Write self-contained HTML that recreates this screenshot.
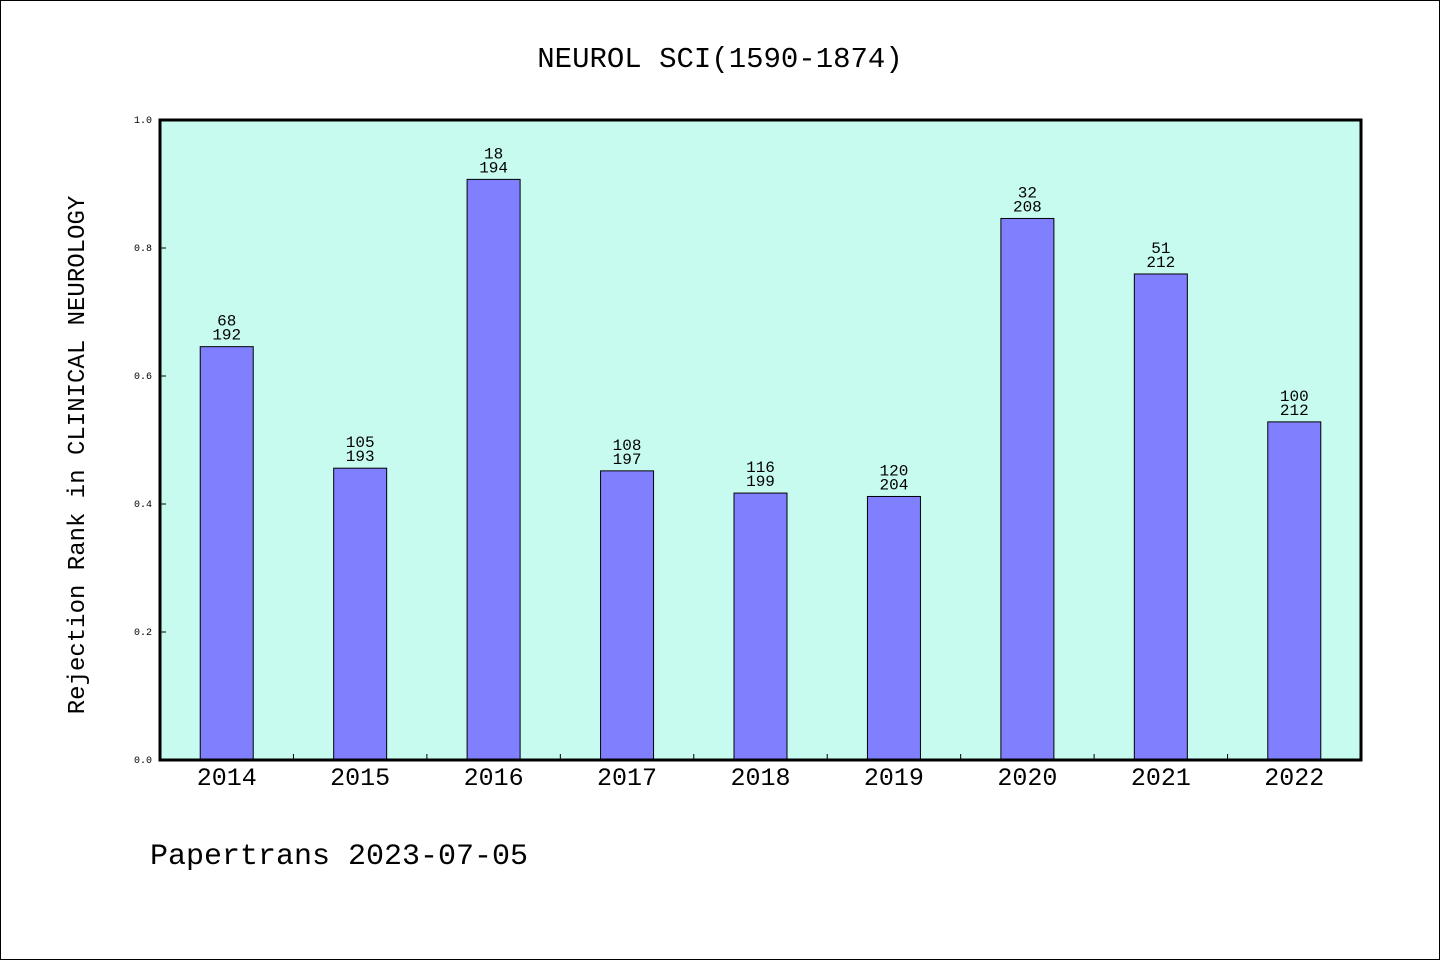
<!DOCTYPE html>
<html><head><meta charset="utf-8"><style>
html,body{margin:0;padding:0;background:#fff;}
svg{display:block;font-family:"Liberation Mono","DejaVu Sans Mono",monospace;}
</style></head><body>
<svg id="chart" width="1440" height="960" xmlns="http://www.w3.org/2000/svg">
<rect x="0.5" y="0.5" width="1439" height="959" fill="#fff" stroke="#000"/>
<text x="720" y="67" text-anchor="middle" font-size="29">NEUROL SCI(1590-1874)</text>
<rect x="160" y="120" width="1201" height="640" fill="#c8fbef"/>
<g id="bars"></g>
<g id="yticks"></g>
<g id="xticks"></g>
<rect x="160" y="120" width="1201" height="640" fill="none" stroke="#000" stroke-width="3"/>
<text transform="translate(84,455) rotate(-90)" text-anchor="middle" font-size="24">Rejection Rank in CLINICAL NEUROLOGY</text>
<text x="150" y="864" font-size="30">Papertrans 2023-07-05</text>
</svg>
<script>
const categories=["2014","2015","2016","2017","2018","2019","2020","2021","2022"];
const ranks=[68,105,18,108,116,120,32,51,100];
const totals=[192,193,194,197,199,204,208,212,212];
const yTicks=[0,0.2,0.4,0.6,0.8,1.0];
const NS="http://www.w3.org/2000/svg";
const X0=160,X1=1361,Y0=760,Y1=120;
const band=(X1-X0)/categories.length;
const xC=i=>X0+(i+0.5)*band;
const y=v=>Y0-(v)*(Y0-Y1);
function mk(tag,attrs,parent,txt){const e=document.createElementNS(NS,tag);for(const k in attrs)e.setAttribute(k,attrs[k]);if(txt!==undefined)e.textContent=txt;parent.appendChild(e);return e;}
const gb=document.getElementById('bars'),gy=document.getElementById('yticks'),gx=document.getElementById('xticks');
categories.forEach((c,i)=>{
  const v=1-ranks[i]/totals[i];
  const r=mk('rect',{x:xC(i)-26.5,y:y(v),width:53,height:Y0-y(v),fill:'#8080ff',stroke:'#000','stroke-width':1},gb);
  
  
  const t1=mk('text',{x:xC(i),y:y(v)-21,'text-anchor':'middle','font-size':16},gb,String(ranks[i]));
  
  
  const t2=mk('text',{x:xC(i),y:y(v)-7,'text-anchor':'middle','font-size':16},gb,String(totals[i]));
  
  
  const xl=mk('text',{x:xC(i),y:785,'text-anchor':'middle','font-size':25},gx,c);
  
  
  if(i>0){const tk=mk('line',{x1:X0+i*band,x2:X0+i*band,y1:Y0,y2:Y0-6,stroke:'#000'},gx);
  
  }
});
yTicks.forEach(v=>{
  const l=mk('text',{x:152,y:y(v)+3,'text-anchor':'end','font-size':10},gy,v.toFixed(1));
  
  
  const tk=mk('line',{x1:X0,x2:X0+6,y1:y(v),y2:y(v),stroke:'#000'},gy);
  
  
});
</script>
</body></html>
